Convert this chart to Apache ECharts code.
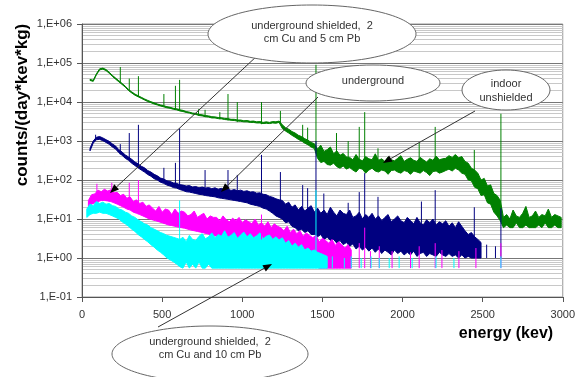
<!DOCTYPE html>
<html>
<head>
<meta charset="utf-8">
<script src="https://cdn.jsdelivr.net/npm/echarts@6/dist/echarts.min.js"></script>
<style>
  html, body { margin: 0; padding: 0; background: #fff; }
  #chart { width: 578px; height: 377px; }
</style>
</head>
<body>
<div id="chart"></div>
<script>
// spectra read per 20 keV channel: upper and lower edge of the noisy trace
const BIN = 20;

const greenStart = 50;
const greenHigh = [
  38000, 36000, 53000, 71000, 74000, 68000, 58000, 48000, 41000, 35000,
  30000, 25500, 21000, 18200, 16000, 14500, 13200, 12000, 11000, 10200,
  9500, 8900, 8400, 8000, 7600, 7300, 6900, 6700, 6300, 6100,
  5700, 5500, 5200, 5100, 4800, 4700, 4500, 4400, 4200, 4150,
  4000, 3950, 3800, 3750, 3600, 3600, 3450, 3450, 3300, 3350,
  3200, 3250, 3100, 3150, 3000, 3100, 3000, 3150, 3100, 3250,
  2600, 2200, 2000, 1750, 1600, 1400, 1300, 1150, 1050, 920,
  850, 620, 780, 540, 600, 700, 470, 560, 430, 480,
  390, 380, 330, 450, 340, 310, 400, 350, 330, 470,
  320, 350, 300, 390, 330, 310, 360, 420, 300, 340,
  370, 320, 300, 380, 330, 290, 350, 320, 410, 330,
  350, 360, 420, 380, 450, 370, 400, 300, 270, 200,
  180, 150, 100, 110, 70, 75, 45, 40, 30, 11,
  13, 10, 17, 12, 11, 14, 21, 11, 12, 16,
  11, 13, 12, 18, 11, 13, 12, 11
];
const greenLow = [
  35700, 33800, 49800, 66700, 69600, 63900, 54500, 45100, 38500, 32900,
  28200, 24000, 19700, 17100, 15000, 13600, 12400, 11300, 10300, 9600,
  8900, 8400, 7900, 7500, 7100, 6900, 6500, 6300, 5900, 5700,
  5400, 5200, 4900, 4800, 4500, 4400, 4200, 4100, 3900, 3900,
  3750, 3700, 3550, 3500, 3400, 3350, 3250, 3200, 3100, 3100,
  3000, 3000, 2900, 2900, 2800, 2850, 2800, 2900, 2850, 3000,
  2100, 1800, 1600, 1400, 1250, 1100, 1000, 880, 800, 700,
  640, 360, 280, 300, 250, 240, 270, 220, 200, 230,
  190, 210, 180, 160, 200, 190, 150, 180, 200, 170,
  160, 180, 170, 140, 175, 180, 160, 150, 175, 165,
  140, 170, 160, 150, 175, 155, 130, 165, 170, 150,
  160, 175, 190, 170, 200, 180, 150, 140, 100, 95,
  65, 60, 40, 42, 26, 24, 15, 12, 9, 6,
  7, 6, 6, 8, 6, 6, 7, 6, 6, 6,
  7, 6, 8, 6, 6, 7, 6, 6
];
// [energy, bottom, top] of the line peaks
const greenPeaks = [
  [239, 31000, 79000], [295, 20000, 40000], [352, 14000, 46000], [511, 7600, 16000],
  [583, 6400, 26000], [609, 5900, 37000], [727, 4500, 6500], [768, 4100, 6300],
  [860, 3600, 5500], [911, 3350, 16000], [969, 3050, 10000], [1120, 2700, 10000],
  [1238, 2700, 5900], [1377, 1100, 2600], [1408, 900, 2200], [1460, 650, 90000],
  [1588, 400, 1600], [1661, 300, 1000], [1730, 250, 2300], [1764, 250, 5500],
  [1847, 250, 650], [2104, 250, 900], [2204, 250, 2300], [2448, 100, 590],
  [2614, 10, 5000]
];

const navyStart = 50;
const navyHigh = [
  650, 1000, 1250, 1300, 1200, 1080, 980, 840, 740, 600,
  520, 440, 390, 340, 290, 260, 225, 205, 175, 160,
  140, 128, 112, 106, 95, 92, 84, 82, 76, 74,
  70, 72, 66, 68, 63, 66, 62, 64, 60, 63,
  58, 61, 56, 59, 54, 57, 53, 55, 51, 53,
  49, 50, 46, 47, 43, 42, 38, 36, 33, 31,
  30, 24, 27, 20, 23, 17, 21, 16, 19, 22,
  15, 19, 14, 17, 13, 20, 15, 12, 17, 14,
  13, 17, 11, 12, 15, 10, 13, 11, 14, 10,
  12, 9, 11, 13, 8.5, 10, 12, 9, 8, 11,
  9, 7.5, 11, 8, 7, 9.5, 8, 10, 7, 8.5,
  7.5, 9, 6.5, 8, 6, 8.5, 6.5, 5, 4, 4.5,
  3.5, 3, 2.5
];
const navyLow = [
  560, 880, 1080, 1100, 1020, 920, 820, 700, 620, 500,
  430, 360, 320, 270, 235, 205, 180, 160, 138, 125,
  108, 100, 88, 82, 74, 70, 64, 62, 57, 54,
  50, 49, 47, 45, 43, 42, 40, 39, 38, 37,
  35, 34, 33, 32, 31, 30, 29, 28, 27, 26,
  24, 23, 22, 21, 19, 18, 16, 14, 12, 11,
  10, 8, 8.5, 6.5, 6, 5, 5.5, 4.5, 5, 4,
  4, 3.5, 4, 3, 3.4, 2.8, 3, 2.4, 2.8, 2.2,
  2.5, 2, 2.3, 1.7, 2, 1.6, 1.9, 1.5, 1.8, 1.4,
  1.7, 1.3, 1.6, 1.4, 1.2, 1.6, 1.3, 1.5, 1.2, 1.4,
  1.2, 1.5, 1.1, 1.3, 1.4, 1.1, 1.3, 1.2, 1.1, 1.4,
  1.2, 1.1, 1.3, 1.1, 1.2, 1, 1.2, 1, 1.1, 1,
  1, 1, 1
];
const navyPeaks = [
  [85, 1100, 1450], [239, 450, 830], [295, 330, 1600], [352, 230, 2600],
  [511, 92, 205], [583, 70, 275], [609, 62, 2100], [768, 50, 180],
  [911, 45, 180], [969, 40, 135], [1120, 35, 440], [1238, 25, 160],
  [1377, 12, 74], [1408, 10, 62], [1460, 8, 1000], [1509, 8, 45],
  [1661, 6, 26], [1730, 5, 49], [1764, 5, 150], [1847, 4, 37],
  [2118, 3, 28], [2204, 3, 55], [2448, 2, 20], [2525, 1, 2.2],
  [2580, 1, 2], [2614, 1, 19]
];

const magentaStart = 40;
const magentaHigh = [
  30, 42, 44, 55, 50, 58, 52, 56, 47, 48,
  40, 43, 34, 37, 28, 31, 25, 27, 21, 23,
  19, 16, 21, 15, 18, 17, 13, 18, 14, 16,
  15, 12, 13, 16, 11, 12.5, 14, 10, 12, 11,
  11, 9, 12, 9.5, 8.5, 10.5, 9, 11, 8, 9.5,
  8.5, 7.5, 10, 7, 8, 6.5, 8.5, 6, 7.5, 6.5,
  6, 5, 6.5, 4.5, 5.5, 4.2, 5, 3.6, 4.4, 3.8,
  3.3, 3.8, 2.6, 3.2, 2.8, 2.4, 3, 2.1, 2.6, 2.2,
  1.8, 2.2, 1.6
];
const magentaLow = [
  20, 24, 26, 28, 30, 30, 29, 28, 26, 24,
  22, 20, 18, 17, 15, 14, 13, 12, 11, 10,
  9.5, 9, 8.5, 8, 7.5, 7, 6.8, 6.5, 6.2, 6,
  5.8, 5.5, 5.2, 5, 4.8, 4.6, 4.4, 4.2, 4, 3.8,
  3.6, 3.4, 3.2, 3, 2.9, 2.8, 2.7, 2.6, 2.5, 2.4,
  2.3, 2.2, 2.1, 2, 1.9, 1.8, 1.7, 1.6, 1.5, 1.4,
  1.3, 1.2, 1.1, 1, 0.95, 0.9, 0.85, 0.8, 0.75, 0.7,
  0.65, 0.6, 0.55, 0.55, 0.55, 0.55, 0.55, 0.55, 0.55, 0.55,
  0.55, 0.55, 0.55
];
const magentaPeaks = [
  [93, 35, 80], [186, 45, 85], [295, 28, 85], [352, 22, 100],
  [1120, 3, 13], [1730, 0.55, 2.4], [1764, 0.55, 6], [1800, 0.55, 1.5],
  [1855, 0.55, 2], [1935, 0.55, 1.5], [2050, 0.55, 1.4], [2104, 0.55, 2],
  [2204, 0.55, 2.4], [2246, 0.55, 1.6], [2352, 0.55, 1.5], [2458, 0.55, 1.8],
  [2614, 0.55, 2.4]
];

const cyanStart = 30;
const cyanHigh = [
  18, 24, 22, 28, 25, 27, 24, 25, 22, 21,
  18, 17, 15, 14, 12, 11, 9.5, 8.5, 7.5, 7,
  6, 5.5, 5, 4.5, 4.2, 3.8, 3.6, 3.4, 3.2, 3,
  3.4, 2.6, 3.8, 3, 2.8, 3.6, 4.2, 3.1, 3.5, 4.4,
  3.3, 4, 3.6, 5, 3.4, 3.8, 4.5, 3.2, 3.9, 4.6,
  3.5, 4.2, 3.3, 3.7, 4.4, 3.1, 3.6, 3.9, 3, 3.5,
  2.9, 3.3, 2.4, 2.8, 2, 2.4, 1.9, 2.2, 1.6, 1.8,
  1.5, 1.6, 1.4, 1.3, 1.2, 1.1
];
const cyanLow = [
  11, 13, 14, 14, 15, 14, 14, 13, 12, 11,
  10, 8.5, 7.5, 6.5, 5.5, 4.8, 4, 3.5, 3, 2.6,
  2.2, 1.9, 1.6, 1.4, 1.2, 1, 0.9, 0.8, 0.7, 0.6,
  0.55, 0.8, 0.55, 0.7, 0.55, 0.8, 0.55, 0.55, 0.7, 0.55,
  0.55, 0.55, 0.55, 0.55, 0.55, 0.55, 0.55, 0.55, 0.55, 0.55,
  0.55, 0.55, 0.55, 0.55, 0.55, 0.55, 0.55, 0.55, 0.55, 0.55,
  0.55, 0.55, 0.55, 0.55, 0.55, 0.55, 0.55, 0.55, 0.55, 0.55,
  0.55, 0.55, 0.55, 0.55, 0.55, 0.55
];
const cyanPeaks = [
  [609, 2, 30], [1460, 0.55, 55], [1562, 0.55, 1.1], [1637, 0.55, 1],
  [1680, 0.55, 1.1], [1742, 0.55, 1], [1804, 0.55, 1.1], [1855, 0.55, 1],
  [1917, 0.55, 1], [1979, 0.55, 1.1], [2060, 0.55, 1], [2209, 0.55, 1.1],
  [2321, 0.55, 1], [2614, 0.55, 1.1]
];

const xTicks = [0, 500, 1000, 1500, 2000, 2500, 3000];
const decades = [0.1, 1, 10, 100, 1000, 10000, 100000];
const minorSteps = [2, 3, 4, 5, 6, 7, 8, 9];

const GREEN = '#008000', NAVY = '#000080', MAGENTA = '#ff00ff', CYAN = '#00ffff';
const FONT = '"Liberation Sans", Arial, sans-serif';

// noisy trace drawn as a band between its upper and lower edge
function bandSeries(start, high, low, color) {
  return {
    type: 'custom', silent: true, clip: true,
    data: [[1000, 1]],
    renderItem: (params, api) => {
      const top = high.map((v, i) => api.coord([start + i * BIN, v]));
      const bottom = low.map((v, i) => api.coord([start + i * BIN, v])).reverse();
      return {
        type: 'polygon',
        shape: { points: top.concat(bottom) },
        style: { fill: color, stroke: color, lineWidth: 1 }
      };
    }
  };
}
function peakSeries(peaks, color) {
  const data = [];
  peaks.forEach(([e, lo, hi]) => data.push([e, lo], [e, hi], [e, '-']));
  return {
    type: 'line', data, showSymbol: false, symbol: 'none', silent: true,
    connectNulls: false, lineStyle: { color, width: 1 }, itemStyle: { color }
  };
}

const minorLines = [];
decades.forEach(d => minorSteps.forEach(m => minorLines.push({ yAxis: d * m })));

const greenPeakSeries = peakSeries(greenPeaks, GREEN);
greenPeakSeries.markLine = {
  silent: true, symbol: ['none', 'none'], z: 0,
  label: { show: false },
  lineStyle: { color: '#c8c8c8', width: 1, type: 'solid' },
  emphasis: { disabled: true },
  data: minorLines
};

const series = [
  bandSeries(greenStart, greenHigh, greenLow, GREEN),
  greenPeakSeries,
  bandSeries(navyStart, navyHigh, navyLow, NAVY),
  peakSeries(navyPeaks, NAVY),
  bandSeries(magentaStart, magentaHigh, magentaLow, MAGENTA),
  peakSeries(magentaPeaks, MAGENTA),
  bandSeries(cyanStart, cyanHigh, cyanLow, CYAN),
  peakSeries(cyanPeaks, CYAN)
];

function expLabel(v) {
  const e = Math.round(Math.log10(v));
  return '1,E' + (e < 0 ? '-' : '+') + String(Math.abs(e)).padStart(2, '0');
}

function arrow(x1, y1, x2, y2) {
  const a = Math.atan2(y2 - y1, x2 - x1);
  const len = 9, half = 3.5;
  const bx = x2 - len * Math.cos(a), by = y2 - len * Math.sin(a);
  return [
    { type: 'line', shape: { x1, y1, x2: bx, y2: by }, style: { stroke: '#333', lineWidth: 1 }, z: 100 },
    { type: 'polygon', z: 100,
      shape: { points: [[x2, y2],
        [bx + half * Math.sin(a), by - half * Math.cos(a)],
        [bx - half * Math.sin(a), by + half * Math.cos(a)]] },
      style: { fill: '#000' } }
  ];
}
function callout(cx, cy, rx, ry, lines, lineY) {
  const els = [{ type: 'ellipse', z: 101, shape: { cx, cy, rx, ry },
    style: { fill: '#fff', stroke: '#666', lineWidth: 1 } }];
  lines.forEach((t, i) => els.push({
    type: 'text', z: 102, x: cx, y: lineY[i],
    style: { text: t, fill: '#333', font: '11px ' + FONT, align: 'center', verticalAlign: 'middle' }
  }));
  return els;
}

const graphics = [].concat(
  arrow(258, 55, 110, 193),
  arrow(318, 97, 221, 192),
  arrow(475, 111, 383, 163),
  arrow(158, 327, 272, 264),
  callout(312, 34, 104, 29, ['underground shielded,  2', 'cm Cu and 5 cm Pb'], [26, 39]),
  callout(373, 83, 67, 18, ['underground'], [81]),
  callout(506, 90, 44, 20, ['indoor', 'unshielded'], [84, 98]),
  callout(210, 354, 98, 28, ['underground shielded,  2', 'cm Cu and 10 cm Pb'], [342, 355]),
  [
    { type: 'text', x: 22, y: 105, rotation: Math.PI / 2, z: 50,
      style: { text: 'counts/(day*kev*kg)', fill: '#000', font: 'bold 17px ' + FONT,
        align: 'center', verticalAlign: 'middle' } },
    { type: 'text', x: 506, y: 334, z: 50,
      style: { text: 'energy (kev)', fill: '#000', font: 'bold 16px ' + FONT,
        align: 'center', verticalAlign: 'middle' } }
  ]
);

const chart = echarts.init(document.getElementById('chart'), null, { renderer: 'canvas' });
chart.setOption({
  animation: false,
  backgroundColor: '#fff',
  grid: { left: 82, right: 14, top: 24, bottom: 80, show: true, borderColor: '#999', borderWidth: 1 },
  xAxis: {
    type: 'value', min: xTicks[0], max: xTicks[xTicks.length - 1], interval: 500,
    axisLine: { lineStyle: { color: '#555' } },
    axisTick: { show: true, length: 5, lineStyle: { color: '#555' } },
    axisLabel: { color: '#333', fontSize: 11, fontFamily: FONT, margin: 12, formatter: v => String(v) },
    splitLine: { show: false }
  },
  yAxis: {
    type: 'log', logBase: 10, min: 0.1, max: 1e6, splitNumber: 7,
    axisLine: { show: true, lineStyle: { color: '#555' } },
    axisTick: { show: true, length: 5, lineStyle: { color: '#555' } },
    axisLabel: { color: '#333', fontSize: 11, fontFamily: FONT, margin: 10, formatter: expLabel },
    splitLine: { show: true, lineStyle: { color: '#777', width: 1 } }
  },
  series,
  graphic: graphics
});
</script>
</body>
</html>
